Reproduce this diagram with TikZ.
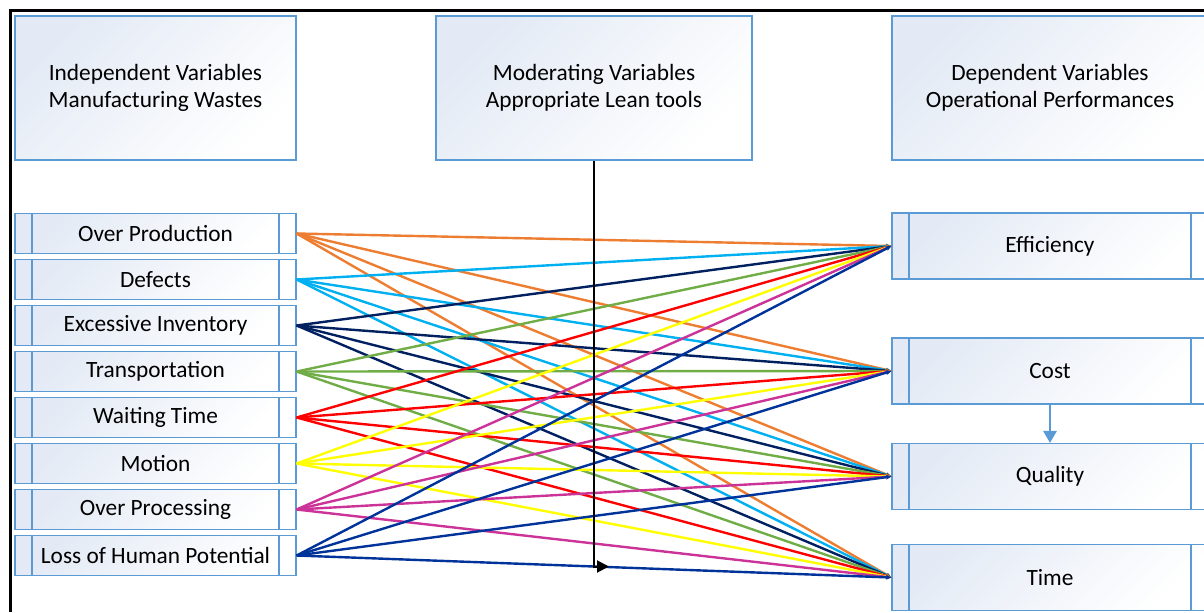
\documentclass[tikz,border=0pt]{standalone}
\usepackage{fontspec}
\setmainfont{Carlito}
\usepackage{tikz}
\usetikzlibrary{arrows.meta}

\definecolor{boxedge}{HTML}{5B9BD5}
\definecolor{boxfill}{HTML}{E3EAF5}
\definecolor{cOrange}{HTML}{ED7D31}
\definecolor{cCyan}{HTML}{00B0F0}
\definecolor{cNavy}{HTML}{002060}
\definecolor{cGreen}{HTML}{70AD47}
\definecolor{cRed}{HTML}{FF0000}
\definecolor{cYellow}{HTML}{FFFF00}
\definecolor{cMagenta}{HTML}{CC3399}
\definecolor{cBlue}{HTML}{003399}

\begin{document}
\begin{tikzpicture}[x=.75pt,y=-.75pt]
  \tikzstyle{box} = [draw=boxedge,line width=.9pt,top color=boxfill,bottom color=white,
    shading angle=45,inner sep=0pt,align=center,font=\fontsize{17.5}{20.5}\selectfont]
  \tikzstyle{head} = [box,minimum height=108pt]
  \tikzstyle{bars} = [path picture={
    \draw[boxedge,line width=.9pt]
      ([xshift=12.75pt]path picture bounding box.north west) -- ([xshift=12.75pt]path picture bounding box.south west)
      ([xshift=-12.75pt]path picture bounding box.north east) -- ([xshift=-12.75pt]path picture bounding box.south east);}]
  \tikzstyle{waste} = [box,bars,minimum width=210.75pt,minimum height=29.6pt]
  \tikzstyle{perf} = [box,bars,minimum width=237pt,minimum height=49.5pt]
  \tikzstyle{link} = [draw,line width=1.8pt,-{Stealth[length=4pt,width=3.5pt]}]
  \tikzstyle{Orange} = [link,draw=cOrange]
  \tikzstyle{Cyan} = [link,draw=cCyan]
  \tikzstyle{Navy} = [link,draw=cNavy]
  \tikzstyle{Green} = [link,draw=cGreen]
  \tikzstyle{Red} = [link,draw=cRed]
  \tikzstyle{Yellow} = [link,draw=cYellow]
  \tikzstyle{Magenta} = [link,draw=cMagenta]
  \tikzstyle{Blue} = [link,draw=cBlue]
  %%
  \useasboundingbox (0,0) rectangle (1204,612);
  \draw[line width=2.6pt] (10.5,612) -- (10.5,10.5) -- (1204,10.5);
  %%
  \node[head,minimum width=210.75pt] (ind) at (155.5,88) {Independent Variables\\Manufacturing Wastes};
  \node[head,minimum width=237pt] (mod) at (594,88) {Moderating Variables\\Appropriate Lean tools};
  \node[head,minimum width=237pt] (dep) at (1050,88) {Dependent Variables\\Operational Performances};
  %%
  \node[waste] (1) at (155.5,233.5) {Over Production};
  \node[waste] (2) at (155.5,279.5) {Defects};
  \node[waste] (3) at (155.5,325.5) {Excessive Inventory};
  \node[waste] (4) at (155.5,371.5) {Transportation};
  \node[waste] (5) at (155.5,417.5) {Waiting Time};
  \node[waste] (6) at (155.5,463.5) {Motion};
  \node[waste] (7) at (155.5,509.5) {Over Processing};
  \node[waste] (8) at (155.5,555.5) {Loss of Human Potential};
  %%
  \node[perf] (E) at (1050,246) {Efficiency};
  \node[perf] (C) at (1050,371) {Cost};
  \node[perf] (Q) at (1050,476.5) {Quality};
  \node[perf] (T) at (1050,577.5) {Time};
  \draw[boxedge,line width=1.5pt,-{Triangle[length=9pt,width=10pt]}] (C) -- (Q);
  %%
  \path [Orange] (1.east) to (E.west); \path [Orange] (1.east) to (C.west);
  \path [Orange] (1.east) to (Q.west); \path [Orange] (1.east) to (T.west);
  \path [Cyan] (2.east) to (E.west); \path [Cyan] (2.east) to (C.west);
  \path [Cyan] (2.east) to (Q.west); \path [Cyan] (2.east) to (T.west);
  \path [Navy] (3.east) to (E.west); \path [Navy] (3.east) to (C.west);
  \path [Navy] (3.east) to (Q.west); \path [Navy] (3.east) to (T.west);
  \path [Green] (4.east) to (E.west); \path [Green] (4.east) to (C.west);
  \path [Green] (4.east) to (Q.west); \path [Green] (4.east) to (T.west);
  \path [Red] (5.east) to (E.west); \path [Red] (5.east) to (C.west);
  \path [Red] (5.east) to (Q.west); \path [Red] (5.east) to (T.west);
  \path [Yellow] (6.east) to (E.west); \path [Yellow] (6.east) to (C.west);
  \path [Yellow] (6.east) to (Q.west); \path [Yellow] (6.east) to (T.west);
  \path [Magenta] (7.east) to (E.west); \path [Magenta] (7.east) to (C.west);
  \path [Magenta] (7.east) to (Q.west); \path [Magenta] (7.east) to (T.west);
  \path [Blue] (8.east) to (E.west); \path [Blue] (8.east) to (C.west);
  \path [Blue] (8.east) to (Q.west); \path [Blue] (8.east) to (T.west);
  %%
  \coordinate (hit) at (609,566.5);
  \draw[line width=1.5pt,-{Triangle[length=9pt,width=9pt]}] (mod.south) |- (hit);
\end{tikzpicture}
\end{document}
